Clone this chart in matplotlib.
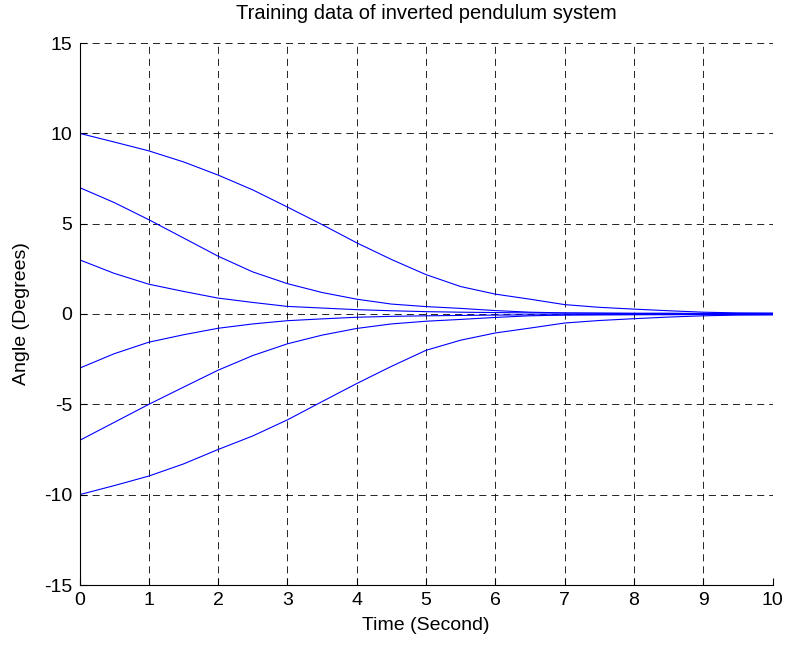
import matplotlib as mpl
mpl.use('Agg')
import matplotlib.pyplot as plt
import numpy as np

plt.rcParams['font.family'] = ['Liberation Sans', 'DejaVu Sans']
plt.rcParams['axes.unicode_minus'] = False

# time samples (seconds)
t = [0, 0.5, 1, 1.5, 2, 2.5, 3, 3.5, 4, 4.5, 5, 5.5, 6, 6.5, 7, 7.5, 8, 8.5, 9, 9.5, 10]

# angle trajectories (degrees)
a_p10 = [10, 9.52, 9.03, 8.42, 7.69, 6.87, 5.92, 4.95, 3.94, 3.02, 2.18, 1.52, 1.1, 0.82, 0.52, 0.37, 0.27, 0.18, 0.1, 0.06, 0.05]
a_p7 = [7, 6.17, 5.22, 4.21, 3.2, 2.33, 1.68, 1.19, 0.82, 0.55, 0.41, 0.31, 0.19, 0.1, 0.06, 0.05, 0.04, 0.04, 0.03, 0.03, 0.03]
a_p3 = [3, 2.25, 1.65, 1.25, 0.88, 0.64, 0.42, 0.33, 0.24, 0.18, 0.13, 0.1, 0.08, 0.06, 0.05, 0.04, 0.03, 0.03, 0.02, 0.02, 0.02]
a_m3 = [-3, -2.2, -1.56, -1.15, -0.79, -0.55, -0.37, -0.27, -0.18, -0.13, -0.1, -0.08, -0.06, -0.05, -0.04, -0.03, -0.03, -0.02, -0.02, -0.02, -0.02]
a_m7 = [-7, -6.0, -5.0, -4.05, -3.11, -2.3, -1.65, -1.17, -0.8, -0.55, -0.4, -0.3, -0.19, -0.1, -0.06, -0.05, -0.04, -0.04, -0.03, -0.03, -0.03]
a_m10 = [-10, -9.5, -8.97, -8.3, -7.5, -6.75, -5.86, -4.85, -3.85, -2.9, -2.01, -1.45, -1.05, -0.78, -0.5, -0.36, -0.26, -0.17, -0.1, -0.06, -0.05]

fig = plt.figure(figsize=(7.85, 6.48), dpi=100)
ax = fig.add_axes([79.5 / 785, 63 / 648, 693 / 785, 542 / 648])

for a in (a_p10, a_p7, a_p3, a_m3, a_m7, a_m10):
    ax.plot(t, a, color='#0000ff', lw=0.8)

ax.set_xlim(0, 10)
ax.set_ylim(-15, 15)
ax.set_xticks(range(0, 11))
ax.set_yticks(range(-15, 16, 5))
ax.grid(True, color='black', linestyle=(0, (8.5, 6)), lw=0.6)
ax.spines['top'].set_visible(False)
ax.spines['right'].set_visible(False)
ax.tick_params(direction='in', length=5, labelsize=14, pad=5)

ax.set_title('Training data of inverted pendulum system', fontsize=14.5, pad=17)
ax.set_xlabel('Time (Second)', fontsize=14, labelpad=6)
ax.set_ylabel('Angle (Degrees)', fontsize=14, labelpad=10)

plt.savefig('out.png')
